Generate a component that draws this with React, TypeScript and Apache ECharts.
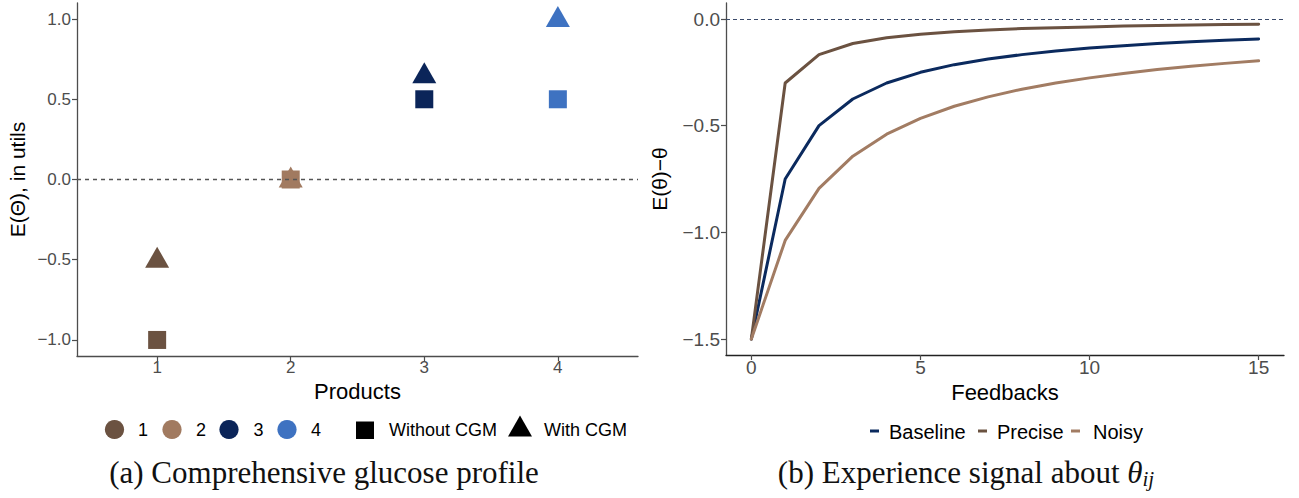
import React, { useEffect, useRef } from "react";
import * as echarts from "echarts";

// ---------- data: panel (a) ----------
const products = [1, 2, 3, 4];
const productLabels = ["1", "2", "3", "4"];
const withoutCGM = [-1.0, 0.0, 0.5, 0.5];
const withCGM = [-0.5, 0.0, 0.65, 1.0];
const leftYTicks = [-1.0, -0.5, 0.0, 0.5, 1.0];
const shapeLabels = ["Without CGM", "With CGM"];

// ---------- data: panel (b) ----------
const feedbacks = [0, 1, 2, 3, 4, 5, 6, 7, 8, 9, 10, 11, 12, 13, 14, 15];
const baseline = [-1.5, -0.75, -0.5, -0.375, -0.3, -0.25, -0.214, -0.1875, -0.167, -0.15, -0.136, -0.125, -0.115, -0.107, -0.1, -0.094];
const precise = [-1.5, -0.3, -0.167, -0.115, -0.088, -0.071, -0.06, -0.052, -0.045, -0.041, -0.037, -0.033, -0.031, -0.028, -0.026, -0.025];
const noisy = [-1.5, -1.038, -0.794, -0.643, -0.54, -0.466, -0.409, -0.365, -0.329, -0.3, -0.276, -0.255, -0.237, -0.221, -0.208, -0.196];
const rightXTicks = [0, 5, 10, 15];
const rightYTicks = [-1.5, -1.0, -0.5, 0.0];
const lineNames = ["Baseline", "Precise", "Noisy"];

// ---------- styles ----------
const productColors = ["#6B5241", "#A17A60", "#0B2559", "#3E72C1"];
const lineColors = ["#0B2A5E", "#6B5241", "#A27C63"];
const SANS = '"Liberation Sans", Arial, Helvetica, sans-serif';
const SERIF = '"Liberation Serif", "Times New Roman", serif';
const AXIS_GREY = "#4D4D4D";

const fmt = (v: number) => v.toFixed(1).replace("-", "\u2212");

function axisBase(lineColor: string) {
  return {
    type: "value" as const,
    splitLine: { show: false },
    axisLine: { show: true, onZero: false, lineStyle: { color: lineColor, width: 1.3 } },
  };
}

export default function App() {
  const ref = useRef<HTMLDivElement>(null);

  useEffect(() => {
    if (!ref.current) return;
    const chart = echarts.init(ref.current, undefined, { renderer: "svg" });

    const lineSeriesData = [baseline, precise, noisy];

    // legend layout (positions only)
    const circleX = [114.5, 172, 229, 287];
    const labelX = [143, 201, 258.5, 316];
    const legY = 429.5;
    const rLegX = [870, 978, 1071];
    const rTextX = [889, 997, 1093];
    const rLegY = 431;

    const graphic: any[] = [];
    productColors.forEach((c, i) => {
      graphic.push({ type: "circle", shape: { cx: circleX[i], cy: legY, r: 9.6 }, style: { fill: c } });
      graphic.push({
        type: "text", x: labelX[i], y: legY + 0.5,
        style: { text: productLabels[i], fill: "#000", font: `18px ${SANS}`, textAlign: "center", verticalAlign: "middle", textVerticalAlign: "middle" },
      });
    });
    graphic.push({ type: "rect", shape: { x: 356, y: 421.5, width: 18, height: 17.5 }, style: { fill: "#000" } });
    graphic.push({
      type: "text", x: 389, y: legY + 0.5,
      style: { text: shapeLabels[0], fill: "#000", font: `18px ${SANS}`, textAlign: "left", verticalAlign: "middle", textVerticalAlign: "middle" },
    });
    graphic.push({ type: "polygon", shape: { points: [[520, 415.5], [532, 436.5], [508, 436.5]] }, style: { fill: "#000" } });
    graphic.push({
      type: "text", x: 544, y: legY + 0.5,
      style: { text: shapeLabels[1], fill: "#000", font: `18px ${SANS}`, textAlign: "left", verticalAlign: "middle", textVerticalAlign: "middle" },
    });

    lineNames.forEach((n, i) => {
      graphic.push({ type: "rect", shape: { x: rLegX[i], y: rLegY - 1.5, width: 9, height: 3 }, style: { fill: lineColors[i] } });
      graphic.push({
        type: "text", x: rTextX[i], y: rLegY + 0.5,
        style: { text: n, fill: "#000", font: `20px ${SANS}`, textAlign: "left", verticalAlign: "middle", textVerticalAlign: "middle" },
      });
    });

    graphic.push({
      type: "text", x: 324, y: 472,
      style: { text: "(a) Comprehensive glucose profile", fill: "#111", font: `31px ${SERIF}`, textAlign: "center", verticalAlign: "middle", textVerticalAlign: "middle" },
    });
    graphic.push({
      type: "text", x: 966, y: 472,
      style: {
        text: "{n|(b) Experience signal about }{t|\u03B8}{s|ij}",
        fill: "#111", textAlign: "center", verticalAlign: "middle", textVerticalAlign: "middle",
        rich: {
          n: { fontFamily: SERIF, fontSize: 31, lineHeight: 34, fill: "#111", color: "#111" },
          t: { fontFamily: SERIF, fontSize: 31, fontStyle: "italic", lineHeight: 34, fill: "#111", color: "#111" },
          s: { fontFamily: SERIF, fontSize: 21, fontStyle: "italic", lineHeight: 12, verticalAlign: "bottom", fill: "#111", color: "#111" },
        },
      },
    });

    const option: any = {
      animation: false,
      backgroundColor: "#fff",
      textStyle: { fontFamily: SANS },
      grid: [
        { left: 77, top: 3, width: 561, height: 353, containLabel: false, outerBoundsMode: "none" },
        { left: 726, top: 3, width: 558, height: 352, containLabel: false, outerBoundsMode: "none" },
      ],
      xAxis: [
        {
          ...axisBase(AXIS_GREY), gridIndex: 0, min: 0.4, max: 4.6,
          axisTick: { show: true, customValues: products, length: 5, lineStyle: { color: AXIS_GREY, width: 1.2 } },
          axisLabel: { customValues: products, fontSize: 17, color: AXIS_GREY, margin: 3, fontFamily: SANS, formatter: (v: number) => String(v) },
          name: "Products", nameLocation: "middle", nameGap: 18,
          nameTextStyle: { fontSize: 22, color: "#000", fontFamily: SANS, verticalAlign: "top" },
        },
        {
          ...axisBase("#222"), gridIndex: 1, min: -0.75, max: 15.75,
          axisTick: { show: true, customValues: rightXTicks, length: 5, lineStyle: { color: AXIS_GREY, width: 1.2 } },
          axisLabel: { customValues: rightXTicks, fontSize: 19, color: AXIS_GREY, margin: 3, fontFamily: SANS, formatter: (v: number) => String(v) },
          name: "Feedbacks", nameLocation: "middle", nameGap: 21,
          nameTextStyle: { fontSize: 22, color: "#000", fontFamily: SANS, verticalAlign: "top" },
        },
      ],
      yAxis: [
        {
          ...axisBase(AXIS_GREY), gridIndex: 0, min: -1.1, max: 1.1,
          axisTick: { show: true, customValues: leftYTicks, length: 5, lineStyle: { color: AXIS_GREY, width: 1.2 } },
          axisLabel: { customValues: leftYTicks, fontSize: 17, color: AXIS_GREY, margin: 6, fontFamily: SANS, formatter: fmt },
          name: "E(\u0398), in utils", nameLocation: "middle", nameGap: 49,
          nameTextStyle: { fontSize: 21, color: "#000", fontFamily: SANS },
        },
        {
          ...axisBase(AXIS_GREY), gridIndex: 1, min: -1.575, max: 0.075,
          axisTick: { show: true, customValues: rightYTicks, length: 5, lineStyle: { color: AXIS_GREY, width: 1.2 } },
          axisLabel: { customValues: rightYTicks, fontSize: 19, color: AXIS_GREY, margin: 6, fontFamily: SANS, formatter: fmt },
          name: "E(\u03B8)\u2212\u03B8", nameLocation: "middle", nameGap: 56,
          nameTextStyle: { fontSize: 21, color: "#000", fontFamily: SANS },
        },
      ],
      series: [
        {
          type: "line", xAxisIndex: 0, yAxisIndex: 0, data: [], z: 1, silent: true,
          markLine: {
            silent: true, symbol: ["none", "none"], label: { show: false },
            lineStyle: { type: [4, 4], color: "#555555", width: 1.3 },
            data: [{ yAxis: 0 }],
          },
        },
        {
          name: shapeLabels[0], type: "scatter", xAxisIndex: 0, yAxisIndex: 0, z: 3,
          symbol: "rect", symbolSize: 18,
          data: products.map((p, i) => ({ value: [p, withoutCGM[i]], itemStyle: { color: productColors[i], opacity: 1 } })),
        },
        {
          name: shapeLabels[1], type: "scatter", xAxisIndex: 0, yAxisIndex: 0, z: 4,
          symbol: "triangle", symbolSize: [24, 21], symbolOffset: [0, -2.5],
          data: products.map((p, i) => ({ value: [p, withCGM[i]], itemStyle: { color: productColors[i], opacity: 1 } })),
        },
        {
          type: "line", xAxisIndex: 1, yAxisIndex: 1, data: [], z: 1, silent: true,
          markLine: {
            silent: true, symbol: ["none", "none"], label: { show: false },
            lineStyle: { type: [4, 3], color: "#3A4A6A", width: 1 },
            data: [{ yAxis: 0 }],
          },
        },
        ...lineNames.map((n, i) => ({
          name: n, type: "line", xAxisIndex: 1, yAxisIndex: 1, z: 2 + i,
          showSymbol: false, symbol: "none",
          lineStyle: { color: lineColors[i], width: 3, cap: "round", join: "round" },
          itemStyle: { color: lineColors[i] },
          data: feedbacks.map((f, j) => [f, lineSeriesData[i][j]]),
        })),
      ],
      graphic,
    };

    chart.setOption(option);
    return () => chart.dispose();
  }, []);

  return <div ref={ref} style={{ position: "fixed", left: 0, top: 0, width: 1299, height: 498, background: "#fff" }} />;
}
